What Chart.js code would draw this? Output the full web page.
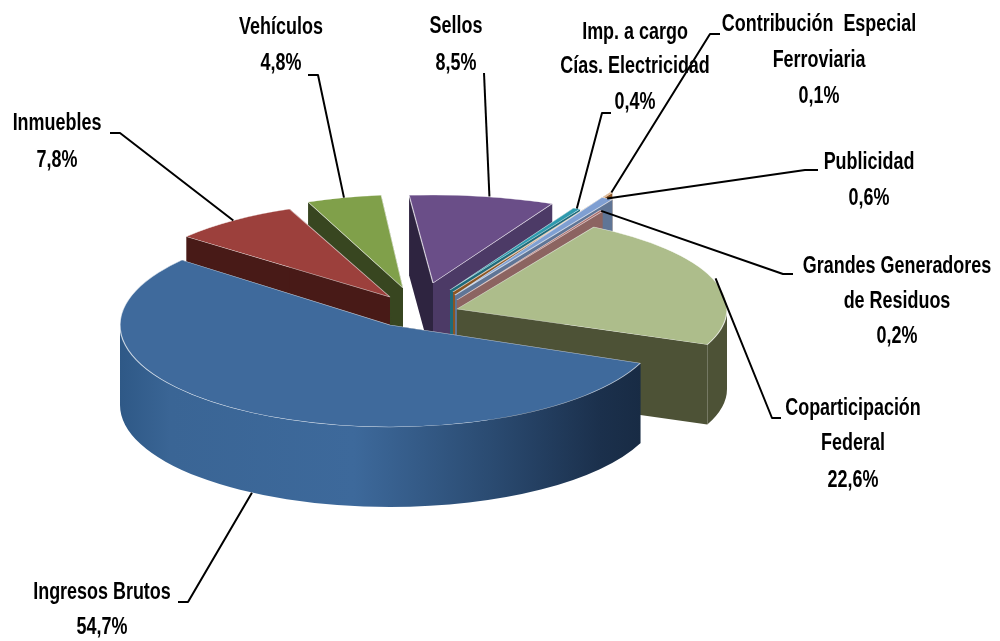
<!DOCTYPE html>
<html><head><meta charset="utf-8">
<style>html,body{margin:0;padding:0;background:#fff}canvas{display:block}</style>
<script src="https://cdn.jsdelivr.net/npm/chart.js@4"></script>
</head><body><canvas id="c" width="1000" height="641"></canvas>
<script>
const categories = ['Ingresos Brutos','Inmuebles','Vehículos','Sellos','Imp. a cargo Cías. Electricidad','Contribución Especial Ferroviaria','Publicidad','Grandes Generadores de Residuos','Coparticipación Federal'];
const values = [54.7,7.8,4.8,8.5,0.4,0.1,0.6,0.2,22.6];
const labelLines = [['Ingresos Brutos'],['Inmuebles'],['Vehículos'],['Sellos'],['Imp. a cargo','Cías. Electricidad'],['Contribución  Especial','Ferroviaria'],['Publicidad'],['Grandes Generadores','de Residuos'],['Coparticipación','Federal']];
const topColors = ['#3f6a9c','#9c403c','#80a04a','#6a4e88','#2e9aae','#c47a34','#7f9fd2','#a86a68','#adbd8b'];
const wallColors = ['#2f5a88','#481a17','#384620','#4c3a66','#1f6a7a','#8a5524','#5f7596','#8c6461','#4d5236'];
const cutWallColors = ['#1a2e48','#481a17','#384620','#2e2440','#1f6a7a','#8a5524','#5f7596','#8c6461','#4d5236'];

// exploded 3-D layout: where each slice's tip sits and how it is foreshortened
const tipX = [390,390,403,433,450,453,455,457,457];
const tipY = [325,297,288,283,290,292,295,300,309];
const radX = [270,264,250,275,285,345,318,288,270];
const radY = [102,95,93,88,91,112,110,103,95];
const depth = 80;
const paintOrder = [3,4,5,6,7,2,1,8,0];

// label layout: text centre x, line centre ys, elbow polyline of the leader
const labelX = [102,57,281,456,635,819,869,897,853];
const labelY = [[593,628],[124,161],[28,64],[27,64],[33,67,103],[25,61,97],[163,199],[267,302,337],[409,444,481]];
const elbows = [[[178,602],[188,602]],[[110,133],[120,133]],[[308,75],[318,75]],[[484,73],[484,73]],[[611,113],[602,113]],[[720,34],[710,34]],[[818,170],[805,170]],[[793,274],[783,274]],[[781,418],[772,418]]];
const leaderNudgeX = [0,0,0,7,0,0,0,0,3];

const fmt = v => v.toFixed(1).replace('.', ',') + '%';
const TAU = Math.PI * 2;

const pie3d = {
  id: 'pie3d',
  beforeDatasetsDraw(chart){
    const ctx = chart.ctx, arcs = chart.getDatasetMeta(0).data;
    const grad = ctx.createLinearGradient(118,0,642,0);
    grad.addColorStop(0,'#2e5886'); grad.addColorStop(0.1,'#3a6595'); grad.addColorStop(0.45,'#3d699b');
    grad.addColorStop(0.72,'#2a4a70'); grad.addColorStop(0.92,'#1b304c'); grad.addColorStop(1,'#182b44');
    paintOrder.forEach(i => {
      const a = arcs[i], x = tipX[i], y = tipY[i], rx = radX[i], ry = radY[i];
      const px = t => x + rx*Math.cos(t), py = t => y + ry*Math.sin(t);
      // radial cut walls
      ctx.fillStyle = cutWallColors[i];
      ctx.beginPath(); ctx.moveTo(x,y); ctx.lineTo(px(a.startAngle),py(a.startAngle)); ctx.lineTo(px(a.startAngle),py(a.startAngle)+depth); ctx.lineTo(x,y+depth); ctx.closePath(); ctx.fill();
      ctx.fillStyle = i===3 ? wallColors[3] : cutWallColors[i];
      ctx.beginPath(); ctx.moveTo(x,y); ctx.lineTo(px(a.endAngle),py(a.endAngle)); ctx.lineTo(px(a.endAngle),py(a.endAngle)+depth); ctx.lineTo(x,y+depth); ctx.closePath(); ctx.fill();
      // outer curved wall: only the front-facing part of the rim
      [[0,Math.PI],[TAU,TAU+Math.PI]].forEach(([lo,hi]) => {
        const s = Math.max(a.startAngle,lo), e = Math.min(a.endAngle,hi);
        if (e <= s) return;
        ctx.fillStyle = i===0 ? grad : wallColors[i];
        ctx.beginPath();
        ctx.ellipse(x,y,rx,ry,0,s,e);
        ctx.lineTo(px(e),py(e)+depth);
        ctx.ellipse(x,y+depth,rx,ry,0,e,s,true);
        ctx.closePath(); ctx.fill();
      });
      // top face: the library's own arc element, foreshortened
      ctx.save();
      ctx.translate(x,y);
      ctx.scale(rx/a.outerRadius, ry/a.outerRadius);
      ctx.translate(-a.x,-a.y);
      a.draw(ctx);
      ctx.restore();
    });
    return false;
  },
  afterDraw(chart){
    const ctx = chart.ctx, arcs = chart.getDatasetMeta(0).data;
    ctx.save();
    ctx.strokeStyle = '#000'; ctx.lineWidth = 2; ctx.lineJoin='round';
    categories.forEach((_,i) => {
      const a = arcs[i], m = (a.startAngle+a.endAngle)/2;
      const sx = tipX[i]+radX[i]*Math.cos(m)+leaderNudgeX[i], sy = tipY[i]+radY[i]*Math.sin(m)+(i===0?depth:0);
      ctx.beginPath();
      ctx.moveTo(elbows[i][0][0],elbows[i][0][1]);
      ctx.lineTo(elbows[i][1][0],elbows[i][1][1]);
      ctx.lineTo(sx,sy);
      ctx.stroke();
    });
    ctx.fillStyle='#000'; ctx.textAlign='center'; ctx.textBaseline='middle';
    ctx.font='bold 23px "Liberation Sans",sans-serif';
    categories.forEach((_,i) => {
      const lines = labelLines[i].concat(fmt(values[i]));
      lines.forEach((t,k)=>{
        ctx.save();
        ctx.translate(labelX[i],labelY[i][k]);
        ctx.scale(0.78,1);
        ctx.fillText(t,0,0);
        ctx.restore();
      });
    });
    ctx.restore();
  }
};
new Chart(document.getElementById('c'),{
  type:'pie',
  data:{labels:categories,datasets:[{data:values,backgroundColor:topColors,borderColor:'rgba(255,255,255,0.65)',borderWidth:1.5}]},
  options:{responsive:false,animation:false,rotation:112,
    plugins:{legend:{display:false},tooltip:{enabled:false}}},
  plugins:[pie3d]
});
</script></body></html>
